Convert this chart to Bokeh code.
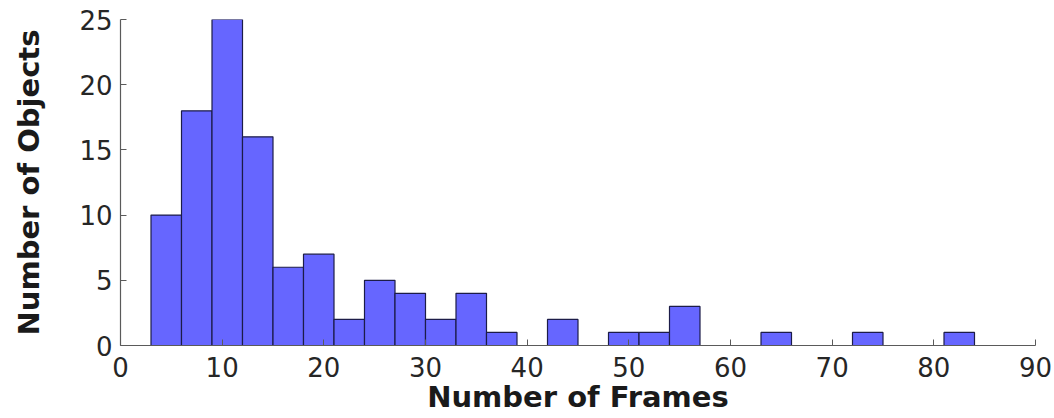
from bokeh.plotting import figure
from bokeh.models import Range1d, FixedTicker
from bokeh.embed import file_html
from bokeh.resources import INLINE

# Histogram of track lengths: bin edges (frames) and object counts per bin
bin_edges = [3, 6, 9, 12, 15, 18, 21, 24, 27, 30, 33, 36, 39, 42, 45, 48,
             51, 54, 57, 60, 63, 66, 69, 72, 75, 78, 81, 84]
counts = [10, 18, 25, 16, 6, 7, 2, 5, 4, 2, 4, 1, 0, 2, 0, 1,
          1, 3, 0, 0, 1, 0, 0, 1, 0, 0, 1]
x_ticks = [0, 10, 20, 30, 40, 50, 60, 70, 80, 90]
y_ticks = [0, 5, 10, 15, 20, 25]

lefts = [bin_edges[i] for i, c in enumerate(counts) if c > 0]
rights = [bin_edges[i + 1] for i, c in enumerate(counts) if c > 0]
tops = [c for c in counts if c > 0]

p = figure(width=1054, height=418, output_backend="svg", toolbar_location=None,
           x_range=Range1d(0, 90), y_range=Range1d(0, 25),
           min_border_left=120, min_border_right=19,
           min_border_top=19, min_border_bottom=73)

p.quad(left=lefts, right=rights, bottom=0, top=tops,
       fill_color="#6666FF", line_color="#1c1c48", line_width=1.2)

p.xgrid.visible = False
p.ygrid.visible = False
p.outline_line_color = None
p.background_fill_color = "white"
p.border_fill_color = "white"

font = "DejaVu Sans"
for ax, ticks in ((p.xaxis, x_ticks), (p.yaxis, y_ticks)):
    ax.ticker = FixedTicker(ticks=ticks)
    ax.axis_line_color = "#5a5a5a"
    ax.axis_line_width = 1.2
    ax.major_tick_line_color = "#5a5a5a"
    ax.major_tick_in = 6
    ax.major_tick_out = 0
    ax.minor_tick_line_color = None
    ax.major_label_text_font = font
    ax.major_label_text_font_size = "26px"
    ax.major_label_text_color = "#262626"
    ax.axis_label_text_font = font
    ax.axis_label_text_font_size = "29px"
    ax.axis_label_text_font_style = "bold"
    ax.axis_label_text_color = "#1a1a1a"

p.xaxis.axis_label = "Number of Frames"
p.yaxis.axis_label = "Number of Objects"
p.xaxis.major_label_standoff = 11
p.yaxis.major_label_standoff = 8
p.xaxis.axis_label_standoff = 0
p.yaxis.axis_label_standoff = 30

open("out.html", "w").write(file_html(p, INLINE))
